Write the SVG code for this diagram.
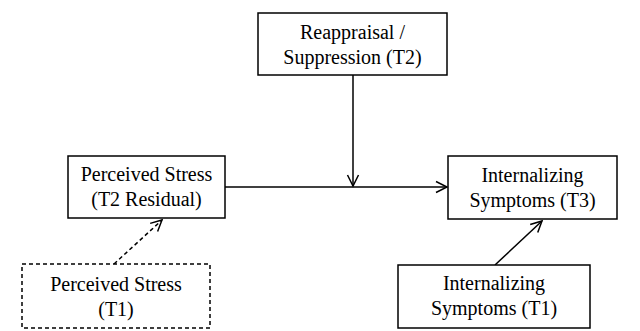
<svg xmlns="http://www.w3.org/2000/svg" width="640" height="331" viewBox="0 0 640 331">
<style>
.box{fill:#fff;stroke:#000;stroke-width:1.5}
.dash{stroke-dasharray:4,3}
text{font-family:"Liberation Serif","Times New Roman",serif;font-size:20px;fill:#000;text-anchor:middle}
.con{stroke:#000;stroke-width:1.5;fill:none}
</style>
<defs>
<marker id="arr" markerUnits="userSpaceOnUse" markerWidth="14" markerHeight="14" refX="12" refY="6" orient="auto" viewBox="0 0 14 12">
<path d="M1,0.5 L12,6 L1,11.5" fill="none" stroke="#000" stroke-width="1.5"/>
</marker>
</defs>
<g id="connectors">
<line class="con" x1="225" y1="187" x2="447" y2="187" marker-end="url(#arr)"/>
<line class="con" x1="353" y1="75" x2="353" y2="186" marker-end="url(#arr)"/>
<line class="con dash" x1="114" y1="264" x2="162" y2="220" marker-end="url(#arr)"/>
<line class="con" x1="495" y1="265" x2="542" y2="221" marker-end="url(#arr)"/>
</g>
<g id="reappraisal">
<rect class="box" x="258" y="13" width="189" height="62"/>
<text x="352.5" y="39">Reappraisal /</text>
<text x="352.5" y="64">Suppression (T2)</text>
</g>
<g id="stressT2">
<rect class="box" x="68" y="156" width="157" height="62"/>
<text x="146.5" y="181">Perceived Stress</text>
<text x="146.5" y="206">(T2 Residual)</text>
</g>
<g id="internT3">
<rect class="box" x="448" y="156" width="169" height="63"/>
<text x="532.5" y="182">Internalizing</text>
<text x="532.5" y="207">Symptoms (T3)</text>
</g>
<g id="stressT1">
<rect class="box dash" x="22" y="264" width="188" height="64"/>
<text x="116" y="291">Perceived Stress</text>
<text x="116" y="316">(T1)</text>
</g>
<g id="internT1">
<rect class="box" x="398" y="265" width="192" height="63"/>
<text x="494" y="290">Internalizing</text>
<text x="494" y="315">Symptoms (T1)</text>
</g>
</svg>
